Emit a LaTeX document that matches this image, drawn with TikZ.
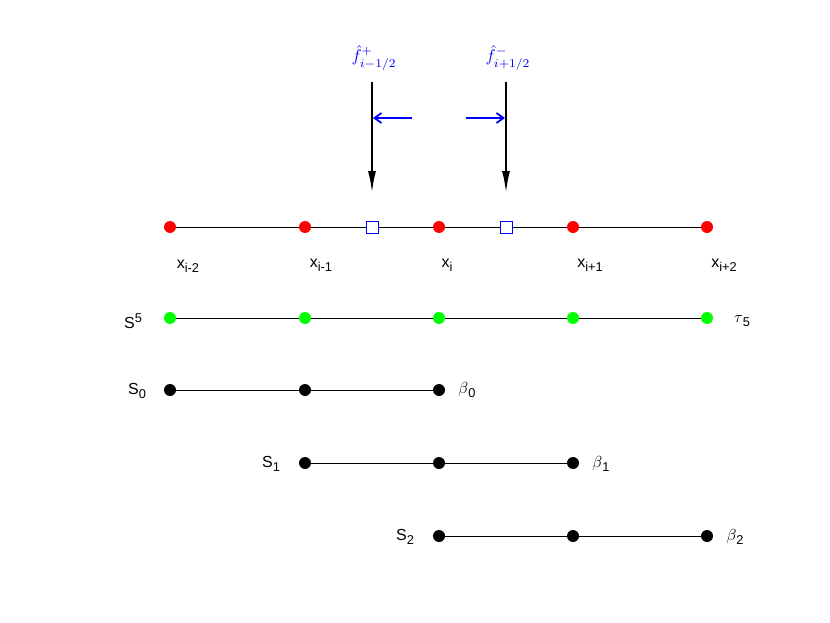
\documentclass[tikz,border=0pt]{standalone}
\usepackage{fontspec}
\setmainfont{Liberation Sans}
\usetikzlibrary{arrows.meta}
\newcommand{\sub}[2]{#1\raisebox{-0.45ex}{\scalebox{0.8}{#2}}}
\newcommand{\supp}[2]{#1\raisebox{0.75ex}{\scalebox{0.8}{#2}}}
\begin{document}
\begin{tikzpicture}[x=1pt,y=-1pt,
  dotr/.style={circle,fill=red,inner sep=0,minimum size=12pt},
  dotg/.style={circle,fill=green,inner sep=0,minimum size=12pt},
  dotk/.style={circle,fill=black,inner sep=0,minimum size=12pt},
  sq/.style={draw=blue,inner sep=0,minimum size=12pt,line width=0.8pt},
  lab/.style={scale=1.6,inner sep=1pt},
  ln/.style={line width=0.8pt},
  varr/.style={line width=2pt,-{Latex[length=22pt,width=8pt]}},
  barr/.style={blue,line width=1.8pt,-{Straight Barb[length=7pt,width=10pt]}}]
\useasboundingbox (0,0) rectangle (830,623);
% main row
\coordinate (r1) at (170,227); \coordinate (r5) at (707,227);
\draw[ln] (r1) -- (r5);
\foreach \n/\x in {1/170,2/305,3/439,4/573,5/707} \node[dotr] (p\n) at (\x,227) {};
\node[sq,fill=white] (q1) at (372,227) {};
\node[sq,fill=white] (q2) at (506,227) {};
\node[lab] (l1) at (188,266) {\sub{x}{i-2}};
\node[lab] (l2) at (321,265) {\sub{x}{i-1}};
\node[lab] (l3) at (447,265) {\sub{x}{i}};
\node[lab] (l4) at (590,265) {\sub{x}{i+1}};
\node[lab] (l5) at (724,265) {\sub{x}{i+2}};
% flux
\node[blue,scale=1.7] (f1) at (374,58) {$\hat f^{+}_{i-1/2}$};
\node[blue,scale=1.7] (f2) at (508,58) {$\hat f^{-}_{i+1/2}$};
\coordinate (a1) at (372,82); \coordinate (b1) at (372,193);
\coordinate (a2) at (506,82); \coordinate (b2) at (506,193);
\draw[varr] (a1) -- (b1);
\draw[varr] (a2) -- (b2);
\coordinate (c1) at (412,118); \coordinate (d1) at (373,118);
\coordinate (c2) at (466,118); \coordinate (d2) at (505,118);
\draw[barr] (c1) -- (d1);
\draw[barr] (c2) -- (d2);
% green row
\draw[ln] (170,318) coordinate (g0) -- (707,318) coordinate (g9);
\foreach \n/\x in {1/170,2/305,3/439,4/573,5/707} \node[dotg] (g\n) at (\x,318) {};
\node[lab] (s5) at (133,321) {\supp{S}{5}};
\node[lab] (t5) at (742,321) {\sub{$\tau$}{5}};
% S0
\draw[ln] (170,390) coordinate (h0) -- (439,390) coordinate (h9);
\foreach \n/\x in {1/170,2/305,3/439} \node[dotk] (h\n) at (\x,390) {};
\node[lab] (s0) at (137,391) {\sub{S}{0}};
\node[lab] (b0) at (467,390) {\sub{$\beta$}{0}};
% S1
\draw[ln] (305,463) coordinate (i0) -- (573,463) coordinate (i9);
\foreach \n/\x in {1/305,2/439,3/573} \node[dotk] (i\n) at (\x,463) {};
\node[lab] (s1) at (271,464) {\sub{S}{1}};
\node[lab] (bb1) at (601,464) {\sub{$\beta$}{1}};
% S2
\draw[ln] (439,536) coordinate (j0) -- (707,536) coordinate (j9);
\foreach \n/\x in {1/439,2/573,3/707} \node[dotk] (j\n) at (\x,536) {};
\node[lab] (s2) at (405,537) {\sub{S}{2}};
\node[lab] (bb2) at (735,537) {\sub{$\beta$}{2}};
\end{tikzpicture}
\end{document}
